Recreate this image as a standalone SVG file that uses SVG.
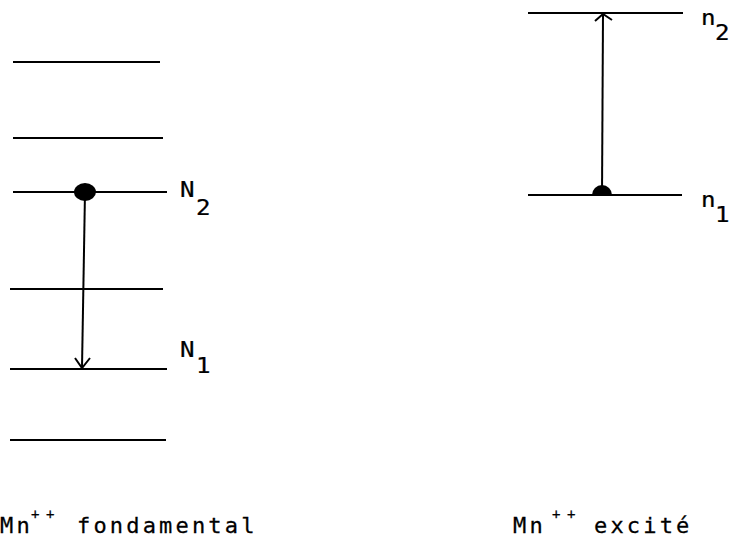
<svg xmlns="http://www.w3.org/2000/svg" width="734" height="545" viewBox="0 0 734 545">
<style>
.lvl{stroke:#000;stroke-width:2;fill:none}
.arr{stroke:#000;stroke-width:2;fill:none;stroke-linejoin:miter}
text{font-family:"DejaVu Sans Mono","Liberation Mono",monospace;fill:#000;stroke:#000;stroke-width:0.25}
.lab{font-size:21px}
.cap{font-size:21px;letter-spacing:3px}
.sup{font-size:14px;letter-spacing:6.6px}
</style>
<rect width="734" height="545" fill="#fff"/>
<g id="ground-levels">
  <g id="level-L1"><line class="lvl" x1="13" y1="62" x2="160" y2="62"/></g>
  <g id="level-L2"><line class="lvl" x1="13" y1="138" x2="163" y2="138"/></g>
  <g id="level-N2"><line class="lvl" x1="13" y1="192" x2="167" y2="192"/>
    <text class="lab" transform="translate(180,197) scale(1.15,1)">N</text><text class="lab" transform="translate(196,215) scale(1.15,1)">2</text></g>
  <g id="level-L4"><line class="lvl" x1="10" y1="289" x2="163" y2="289"/></g>
  <g id="level-N1"><line class="lvl" x1="10" y1="369" x2="167" y2="369"/>
    <text class="lab" transform="translate(180,357) scale(1.15,1)">N</text><text class="lab" transform="translate(196,373) scale(1.15,1)">1</text></g>
  <g id="level-L6"><line class="lvl" x1="10" y1="440" x2="166" y2="440"/></g>
</g>
<g id="excited-levels">
  <g id="level-n2"><line class="lvl" x1="528" y1="13" x2="683" y2="13"/>
    <text class="lab" transform="translate(701,25) scale(1.15,1)">n</text><text class="lab" transform="translate(715,40) scale(1.15,1)">2</text></g>
  <g id="level-n1"><line class="lvl" x1="528" y1="195" x2="682" y2="195"/>
    <text class="lab" transform="translate(701,207) scale(1.15,1)">n</text><text class="lab" transform="translate(715,222) scale(1.15,1)">1</text></g>
</g>
<g id="connectors">
  <ellipse cx="85" cy="192" rx="11" ry="9" fill="#000"/>
  <line class="arr" x1="85" y1="192" x2="82" y2="368"/>
  <polyline class="arr" points="75,358 82,368 90,358"/>
  <path d="M592,195 A10,10 0 0,1 612,195 Z" fill="#000"/>
  <line class="arr" x1="602" y1="195" x2="603" y2="14"/>
  <polyline class="arr" points="595,21 603,14 612,20"/>
</g>
<g id="caption-left">
  <text class="cap" transform="translate(0,533) scale(1.05,1)">Mn</text>
  <text class="sup" x="31" y="519">++</text>
  <text class="cap" transform="translate(77,533) scale(1.05,1)">fondamental</text>
</g>
<g id="caption-right">
  <text class="cap" transform="translate(513,533) scale(1.05,1)">Mn</text>
  <text class="sup" x="552" y="519">++</text>
  <text class="cap" transform="translate(594,533) scale(1.05,1)">excité</text>
</g>
</svg>
